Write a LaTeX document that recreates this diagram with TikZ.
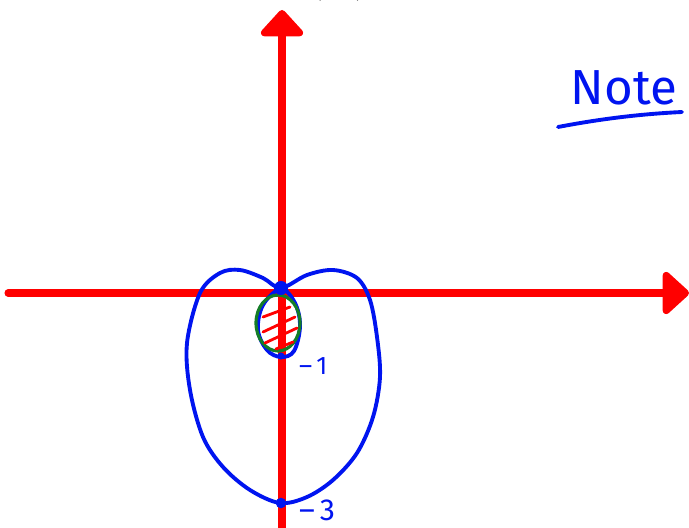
\documentclass[tikz,border=0pt]{standalone}
\usepackage{fontspec}
\setmainfont{Fira Sans}
\usepackage{tikz}
\usetikzlibrary{arrows.meta, positioning, calc}
\definecolor{axisred}{RGB}{255, 0, 0}
\definecolor{curveblue}{RGB}{0, 20, 240}
\definecolor{loopgreen}{RGB}{20, 125, 40}

\begin{document}
\begin{tikzpicture}[x=0.02cm, y=-0.02cm,
    axisline/.style={draw=axisred, line width=4pt, line cap=round, -{Triangle[length=16pt, width=28pt, round]}},
    curveline/.style={draw=curveblue, line width=2.2pt, line cap=round},
    hatchline/.style={draw=axisred, line width=1.6pt, line cap=round},
    dotmark/.style={circle, fill=curveblue, inner sep=0pt, minimum size=#1},
    bluelabel/.style={text=curveblue, inner sep=1pt}]
    \clip (0,0) rectangle (689,527);
    \fill[white] (0,0) rectangle (689,527);
    % cut caption at the top
    \node[anchor=base, font=\Large, inner sep=0pt] (caption) at (339,-2) {(\hspace{1.3em})};
    % axes
    \coordinate (O) at (282,293);
    \coordinate (xstart) at (8,293);
    \coordinate (xend) at (689,293);
    \coordinate (ystart) at (282,535);
    \coordinate (yend) at (282,10);
    \draw[axisline] (xstart) -- (xend);
    \draw[axisline] (ystart) -- (yend);
    % outer curve
    \draw[curveline] plot[smooth cycle, tension=0.55] coordinates {
        (281,288) (263,278) (240,270) (220,273) (200,293) (187,343) (190,390)
        (203,437) (223,467) (250,490) (280,503) (307,497) (333,480) (357,453)
        (373,417) (380,377) (377,337) (370,300) (357,278) (333,270) (307,275)};
    % inner loop
    \draw[curveline] plot[smooth cycle, tension=0.6] coordinates {
        (281,289) (263,305) (258,330) (267,350) (281,357) (294,351) (300,326) (295,303)};
    % shaded region
    \draw[draw=loopgreen, line width=1.8pt] (278,323) ellipse [x radius=22, y radius=28];
    \draw[hatchline] (263,317) -- (290,307);
    \draw[hatchline] (263,332) -- (295,317);
    \draw[hatchline] (265,343) -- (297,328);
    \draw[hatchline] (276,349) -- (293,342);
    % points
    \node[dotmark=8pt] (p0) at (281,288) {};
    \node[dotmark=4pt] (p1) at (281,356) {};
    \node[dotmark=6pt] (p3) at (281,503) {};
    \node[bluelabel, font=\Large, anchor=west] (m1) at (297,366) {\textendash\,1};
    \node[bluelabel, font=\LARGE, anchor=west] (m3) at (297,510) {\textendash\,3};
    % note
    \node[bluelabel, font=\fontsize{28}{30}\selectfont] (note) at (624,88) {Note};
    \coordinate (ulstart) at (558,127);
    \coordinate (ulend) at (682,112);
    \draw[curveline] (ulstart) .. controls (600,119) and (640,114) .. (ulend);
\end{tikzpicture}
\end{document}
